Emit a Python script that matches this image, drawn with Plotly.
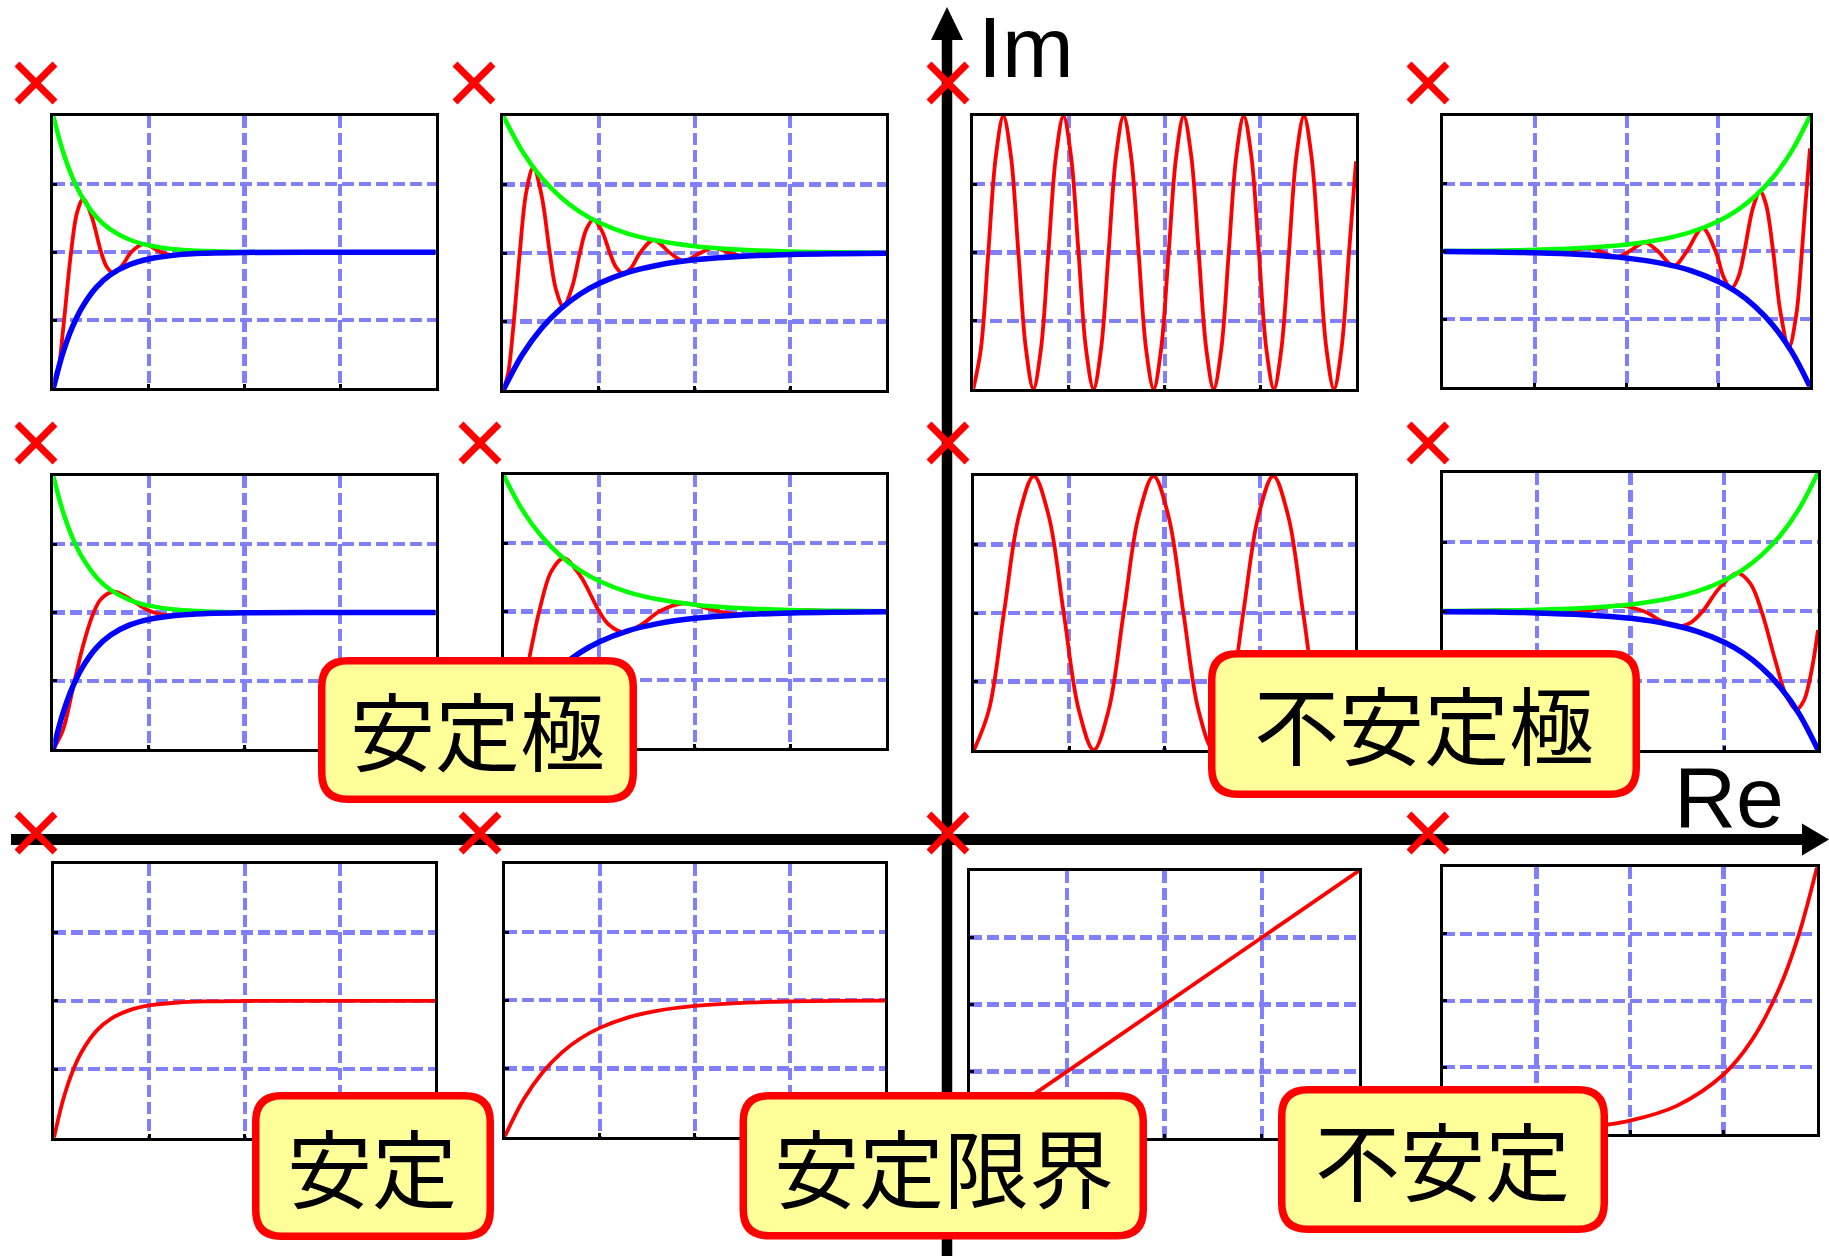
import plotly.graph_objects as go

W, H = 1829, 1256

# ---------------- small panels: common axes ----------------
t_range = [0, 4]
v_range = [0, 2]
t_ticks = [1, 2, 3]
v_ticks = [0.5, 1.0, 1.5]

# ---------------- envelopes ----------------
t_env_fast = [0, 0.1, 0.2, 0.3, 0.45, 0.6, 0.8, 1.0, 1.3, 1.6, 2.0, 3.0, 4.0]
env_fast_upper = [2, 1.741, 1.549, 1.407, 1.259, 1.165, 1.091, 1.050, 1.020, 1.008, 1.002, 1.0, 1.0]
env_fast_lower = [0, 0.259, 0.451, 0.593, 0.741, 0.835, 0.909, 0.950, 0.980, 0.992, 0.998, 1.0, 1.0]

t_env_slow = [0, 0.2, 0.4, 0.6, 0.8, 1.0, 1.3, 1.6, 2.0, 2.5, 3.0, 3.5, 4.0]
env_slow_upper = [2, 1.741, 1.549, 1.407, 1.301, 1.223, 1.142, 1.091, 1.050, 1.024, 1.011, 1.005, 1.002]
env_slow_lower = [0, 0.259, 0.451, 0.593, 0.699, 0.777, 0.858, 0.909, 0.950, 0.976, 0.989, 0.995, 0.998]

t_env_grow = [0, 0.5, 1.0, 1.5, 2.0, 2.4, 2.7, 3.0, 3.2, 3.4, 3.6, 3.8, 4.0]
env_grow_upper = [1.002, 1.005, 1.011, 1.024, 1.050, 1.091, 1.142, 1.223, 1.301, 1.407, 1.549, 1.741, 2.0]
env_grow_lower = [0.998, 0.995, 0.989, 0.976, 0.950, 0.909, 0.858, 0.777, 0.699, 0.593, 0.451, 0.259, 0.0]

# ---------------- responses (red curves) ----------------
t_r1 = [0, 0.05, 0.10, 0.15, 0.186, 0.25, 0.314, 0.40, 0.500, 0.56, 0.628, 0.72, 0.815, 0.942, 1.129,
        1.257, 1.443, 1.571, 1.757, 1.885, 2.2, 3.0, 4.0]
v_r1 = [0, 0.121, 0.413, 0.764, 1.0, 1.294, 1.390, 1.265, 1.0, 0.891, 0.848, 0.902, 1.0, 1.059, 1.0,
        0.977, 1.0, 1.009, 1.0, 0.997, 1.0, 1.0, 1.0]

t_r2 = [0, 0.05, 0.10, 0.14, 0.172, 0.24, 0.314, 0.40, 0.486, 0.55, 0.628, 0.72, 0.800, 0.87, 0.942,
        1.03, 1.114, 1.18, 1.257, 1.34, 1.429, 1.571, 1.743, 1.885, 2.057, 2.199, 2.371, 2.513, 2.685,
        2.827, 3.000, 3.142, 3.314, 3.6, 4.0]
v_r2 = [0, 0.119, 0.426, 0.742, 1.0, 1.444, 1.624, 1.421, 1.0, 0.736, 0.610, 0.753, 1.0, 1.176, 1.243,
        1.161, 1.0, 0.895, 0.848, 0.895, 1.0, 1.095, 1.0, 0.941, 1.0, 1.037, 1.0, 0.977, 1.0,
        1.014, 1.0, 0.991, 1.0, 1.0, 1.0]

t_r3 = [0, 0.079, 0.157, 0.236, 0.314, 0.393, 0.471, 0.550, 0.628, 0.707, 0.785, 0.864, 0.942, 1.021,
        1.100, 1.178, 1.257, 1.335, 1.414, 1.492, 1.571, 1.649, 1.728, 1.806, 1.885, 1.963, 2.042,
        2.121, 2.199, 2.278, 2.356, 2.435, 2.513, 2.592, 2.670, 2.749, 2.827, 2.906, 2.985, 3.063,
        3.142, 3.220, 3.299, 3.377, 3.456, 3.534, 3.613, 3.691, 3.770, 3.848, 3.927, 4.0]
v_r3 = [0, 0.293, 1, 1.707, 2, 1.707, 1, 0.293, 0, 0.293, 1, 1.707, 2, 1.707,
        1, 0.293, 0, 0.293, 1, 1.707, 2, 1.707, 1, 0.293, 0, 0.293, 1,
        1.707, 2, 1.707, 1, 0.293, 0, 0.293, 1, 1.707, 2, 1.707, 1, 0.293,
        0, 0.293, 1, 1.707, 2, 1.707, 1, 0.293, 0, 0.293, 1, 1.667]

t_r4 = [0, 0.6, 0.942, 1.085, 1.257, 1.399, 1.571, 1.713, 1.885, 2.027, 2.199, 2.341, 2.513, 2.656,
        2.827, 2.970, 3.06, 3.142, 3.22, 3.284, 3.38, 3.456, 3.52, 3.598, 3.68, 3.770, 3.85, 3.912,
        3.95, 4.0]
v_r4 = [1, 1, 1.010, 1, 0.984, 1, 1.026, 1, 0.958, 1, 1.067, 1, 0.892, 1,
        1.172, 1, 0.806, 0.724, 0.813, 1, 1.327, 1.442, 1.347, 1, 0.542, 0.292, 0.530, 1,
        1.347, 1.76]

t_r5 = [0, 0.1, 0.2, 0.3, 0.422, 0.5, 0.628, 0.8, 0.95, 1.051, 1.257, 1.5, 1.885, 2.5, 3.0, 4.0]
v_r5 = [0, 0.137, 0.426, 0.728, 1.0, 1.099, 1.152, 1.100, 1.032, 1.0, 0.977, 0.990, 1.004, 1.0, 1.0, 1.0]

t_r6 = [0, 0.1, 0.2, 0.3, 0.373, 0.5, 0.628, 0.8, 1.001, 1.1, 1.257, 1.45, 1.629, 1.885, 2.257,
        2.513, 2.886, 3.142, 3.514, 3.770, 4.0]
v_r6 = [0, 0.121, 0.413, 0.764, 1.0, 1.294, 1.390, 1.265, 1.0, 0.905, 0.848, 0.907, 1.0, 1.059, 1.0,
        0.977, 1.0, 1.009, 1.0, 0.997, 1.0]

t_r7 = [0, 0.157, 0.314, 0.471, 0.628, 0.785, 0.942, 1.100, 1.257, 1.414, 1.571, 1.728, 1.885, 2.042,
        2.199, 2.356, 2.513, 2.670, 2.827, 2.985, 3.142, 3.299, 3.456, 3.613, 3.770, 3.927, 4.0]
v_r7 = [0, 0.293, 1, 1.707, 2, 1.707, 1, 0.293, 0, 0.293, 1, 1.707, 2, 1.707,
        1, 0.293, 0, 0.293, 1, 1.707, 2, 1.707, 1, 0.293, 0, 0.293, 0.592]

t_r8 = [0, 0.628, 0.884, 1.257, 1.513, 1.885, 2.141, 2.35, 2.513, 2.65, 2.769, 2.95, 3.142, 3.28,
        3.398, 3.55, 3.66, 3.770, 3.85, 3.9, 3.95, 4.0]
v_r8 = [1, 1.006, 1, 0.984, 1, 1.042, 1, 0.924, 0.892, 0.923, 1, 1.170, 1.276, 1.198,
        1, 0.632, 0.394, 0.292, 0.358, 0.471, 0.641, 0.866]

t_r9 = [0, 0.1, 0.2, 0.3, 0.45, 0.6, 0.8, 1.0, 1.3, 1.6, 2.0, 3.0, 4.0]
v_r9 = [0, 0.288, 0.493, 0.639, 0.784, 0.870, 0.934, 0.967, 0.988, 0.996, 0.999, 1.0, 1.0]

t_r10 = [0, 0.2, 0.4, 0.6, 0.8, 1.0, 1.3, 1.6, 2.0, 2.5, 3.0, 3.5, 4.0]
v_r10 = [0, 0.274, 0.473, 0.617, 0.722, 0.798, 0.875, 0.923, 0.959, 0.982, 0.992, 0.996, 0.998]

t_r11 = [0, 4.0]
v_r11 = [0, 2.0]

t_r12 = [0, 1.0, 1.5, 2.0, 2.5, 3.0, 3.3, 3.6, 3.8, 4.0]
v_r12 = [0.005, 0.022, 0.047, 0.100, 0.211, 0.446, 0.700, 1.098, 1.482, 2.0]

# ---------------- poles in the s-plane ----------------
pole_re = [-3.04, -1.58, 0.0, 1.6, -3.04, -1.56, 0.0, 1.6, -3.04, -1.56, 0.0, 1.6]
pole_im = [10.0, 10.0, 10.0, 10.0, 5.2, 5.2, 5.2, 5.2, 0.0, 0.0, 0.0, 0.0]

# ---------------- labels ----------------
label_texts = ["安定極", "不安定極", "安定", "安定限界", "不安定"]
axis_texts = ["Im", "Re"]

# ---------------- layout (pixel positions) ----------------
panel_px = [
    (53.3, 116, 435.7, 388.3), (503.3, 116, 886, 390), (973.3, 116, 1356, 389), (1443.3, 116, 1810, 386.7),
    (53.3, 476, 435.7, 749), (503.5, 475, 886, 748), (974, 476, 1355, 750), (1443.2, 472.7, 1818, 750),
    (54, 864, 435.4, 1137.7), (504.7, 864, 885, 1136.7), (970, 870.7, 1359, 1138.3), (1443, 867.3, 1817, 1134),
]
envelopes = [
    (t_env_fast, env_fast_upper, env_fast_lower), (t_env_slow, env_slow_upper, env_slow_lower), None,
    (t_env_grow, env_grow_upper, env_grow_lower),
    (t_env_fast, env_fast_upper, env_fast_lower), (t_env_slow, env_slow_upper, env_slow_lower), None,
    (t_env_grow, env_grow_upper, env_grow_lower),
    None, None, None, None,
]
responses = [(t_r1, v_r1), (t_r2, v_r2), (t_r3, v_r3), (t_r4, v_r4),
             (t_r5, v_r5), (t_r6, v_r6), (t_r7, v_r7), (t_r8, v_r8),
             (t_r9, v_r9), (t_r10, v_r10), (t_r11, v_r11), (t_r12, v_r12)]

label_box_px = [(318, 657, 637, 803), (1208, 650, 1640, 798), (252, 1092, 494, 1240),
                (739.5, 1092, 1147, 1239.5), (1278, 1086, 1608, 1233)]
label_center_px = [(478, 727), (1424, 721), (372, 1164), (944, 1164), (1442, 1157.5)]

RED, GREEN, BLUE = "#FF0000", "#00FF00", "#0000FF"
GRID = "rgb(128,128,255)"

fig = go.Figure()
layout_axes = {}

for i, ((L, T, R, B), (tr, vr), env) in enumerate(zip(panel_px, responses, envelopes), start=1):
    xa = "x" if i == 1 else f"x{i}"
    ya = "y" if i == 1 else f"y{i}"
    shape = "linear" if i == 11 else "spline"
    fig.add_trace(go.Scatter(x=tr, y=vr, xaxis=xa, yaxis=ya, mode="lines",
                             line=dict(color=RED, width=3.8, shape=shape), hoverinfo="skip"))
    if env is not None:
        te, up, lo = env
        fig.add_trace(go.Scatter(x=te, y=up, xaxis=xa, yaxis=ya, mode="lines",
                                 line=dict(color=GREEN, width=4.5, shape="spline"), hoverinfo="skip"))
        fig.add_trace(go.Scatter(x=te, y=lo, xaxis=xa, yaxis=ya, mode="lines",
                                 line=dict(color=BLUE, width=5.5, shape="spline"), hoverinfo="skip"))
    common = dict(showticklabels=False, ticks="inside", ticklen=4, tickwidth=3, tickcolor="black",
                  showgrid=True, gridcolor=GRID, gridwidth=4.2, griddash="12px,5px",
                  showline=True, linecolor="black", linewidth=3, mirror=True,
                  zeroline=False, fixedrange=True)
    layout_axes["xaxis" if i == 1 else f"xaxis{i}"] = dict(
        domain=[L / W, R / W], anchor=ya, range=t_range, tickvals=t_ticks, **common)
    layout_axes["yaxis" if i == 1 else f"yaxis{i}"] = dict(
        domain=[1 - B / H, 1 - T / H], anchor=xa, range=v_range, tickvals=v_ticks, **common)

# s-plane overlay (whole figure): origin at pixel (948, 833), 300 px per unit Re, 75 px per unit Im
fig.add_trace(go.Scatter(x=pole_re, y=pole_im, xaxis="x13", yaxis="y13", mode="markers",
                         marker=dict(symbol="x-thin", size=38, color=RED, line=dict(width=7, color=RED)),
                         hoverinfo="skip"))
layout_axes["xaxis13"] = dict(domain=[0, 1], anchor="y13", range=[-948 / 300, (W - 948) / 300],
                              visible=False, fixedrange=True)
layout_axes["yaxis13"] = dict(domain=[0, 1], anchor="x13", range=[-(H - 833) / 75, 833 / 75],
                              visible=False, fixedrange=True)


def P(x, y):
    return f"{x / W:.5f},{1 - y / H:.5f}"


def rounded_box(x0, y0, x1, y1, r):
    return ("M" + P(x0 + r, y0) + " L" + P(x1 - r, y0) + " Q" + P(x1, y0) + " " + P(x1, y0 + r) +
            " L" + P(x1, y1 - r) + " Q" + P(x1, y1) + " " + P(x1 - r, y1) +
            " L" + P(x0 + r, y1) + " Q" + P(x0, y1) + " " + P(x0, y1 - r) +
            " L" + P(x0, y0 + r) + " Q" + P(x0, y0) + " " + P(x0 + r, y0) + " Z")


shapes = []
# Im axis and arrow
shapes.append(dict(type="line", xref="paper", yref="paper", x0=947 / W, x1=947 / W,
                   y0=0, y1=1 - 36 / H, line=dict(color="black", width=10.5), layer="below"))
shapes.append(dict(type="path", xref="paper", yref="paper",
                   path="M" + P(947, 7) + " L" + P(931, 40) + " L" + P(963, 40) + " Z",
                   fillcolor="black", line=dict(width=0), layer="below"))
# Re axis and arrow
shapes.append(dict(type="line", xref="paper", yref="paper", x0=11 / W, x1=1806 / W,
                   y0=1 - 839.5 / H, y1=1 - 839.5 / H, line=dict(color="black", width=11), layer="below"))
shapes.append(dict(type="path", xref="paper", yref="paper",
                   path="M" + P(1829, 839.5) + " L" + P(1802, 823.5) + " L" + P(1802, 855.5) + " Z",
                   fillcolor="black", line=dict(width=0), layer="below"))

BW = 7.5
for (x0, y0, x1, y1) in label_box_px:
    h = BW / 2
    shapes.append(dict(type="path", xref="paper", yref="paper",
                       path=rounded_box(x0 + h, y0 + h, x1 - h, y1 - h, 26),
                       fillcolor="#FFFF99", line=dict(color=RED, width=BW), layer="above"))

annotations = []
for txt, (cx, cy) in zip(label_texts, label_center_px):
    annotations.append(dict(text=txt, x=cx / W, y=1 - cy / H, xref="paper", yref="paper",
                            xanchor="center", yanchor="middle", showarrow=False, borderpad=0,
                            font=dict(family="Noto Sans CJK JP", size=85, color="black")))
annotations.append(dict(text=axis_texts[0], x=977 / W, y=1 - 47 / H, xref="paper", yref="paper",
                        xanchor="left", yanchor="middle", showarrow=False, borderpad=0,
                        font=dict(family="Liberation Sans", size=86, color="black")))
annotations.append(dict(text=axis_texts[1], x=1673 / W, y=1 - 797 / H, xref="paper", yref="paper",
                        xanchor="left", yanchor="middle", showarrow=False, borderpad=0,
                        font=dict(family="Liberation Sans", size=86, color="black")))

fig.update_layout(
    width=W, height=H, autosize=False,
    margin=dict(l=0, r=0, t=0, b=0, pad=0),
    paper_bgcolor="white", plot_bgcolor="rgba(0,0,0,0)",
    showlegend=False, hovermode=False,
    shapes=shapes, annotations=annotations,
    **layout_axes,
)

fig.write_html("out.html",
               config={"displayModeBar": False, "staticPlot": True},
               post_script="document.body.style.margin='0';document.body.style.overflow='hidden';")
